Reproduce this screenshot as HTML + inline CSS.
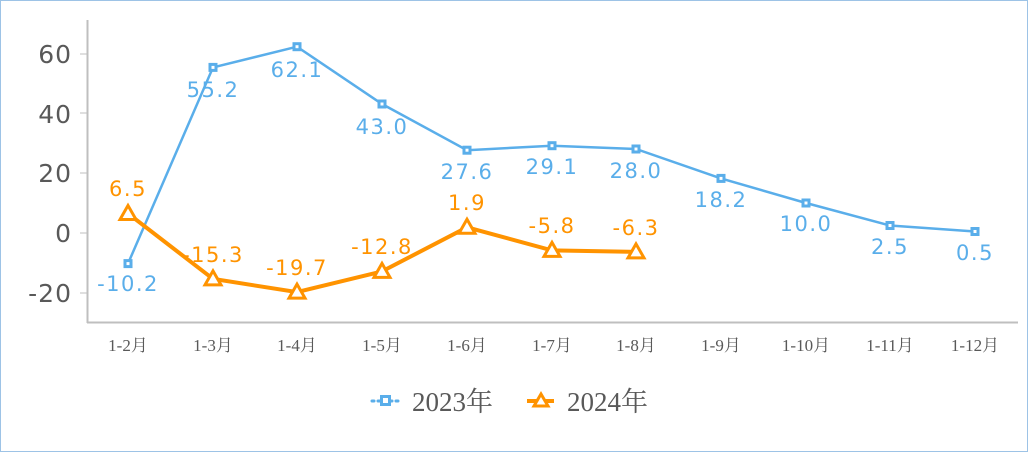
<!DOCTYPE html>
<html><head><meta charset="utf-8"><style>
html,body{margin:0;padding:0;background:#fff}
svg{display:block}
</style></head><body>
<svg width="1028" height="452" viewBox="0 0 1028 452" xmlns="http://www.w3.org/2000/svg">
<rect x="0.5" y="0.5" width="1027" height="451" fill="#fff" stroke="#9dc3e6" stroke-width="1"/>
<line x1="87.5" y1="20" x2="87.5" y2="323" stroke="#bfbfbf" stroke-width="2"/>
<line x1="87" y1="322.5" x2="1018" y2="322.5" stroke="#bfbfbf" stroke-width="2"/>
<g stroke="#bfbfbf" stroke-width="1">
<line x1="80" y1="54" x2="88" y2="54"/><line x1="80" y1="113" x2="88" y2="113"/>
<line x1="80" y1="173" x2="88" y2="173"/><line x1="80" y1="233" x2="88" y2="233"/>
<line x1="80" y1="293" x2="88" y2="293"/>
</g>
<g font-family="DejaVu Sans, Liberation Sans, sans-serif" font-size="25" fill="#595959" text-anchor="end" letter-spacing="1">
<text x="72" y="63">60</text><text x="72" y="123">40</text><text x="72" y="182">20</text>
<text x="72" y="242">0</text><text x="72" y="302">-20</text>
</g>
<g font-family="Liberation Serif, Noto Serif CJK SC, serif" font-size="17" fill="#595959" text-anchor="middle">
<text x="128" y="351">1-2月</text><text x="213" y="351">1-3月</text><text x="297" y="351">1-4月</text>
<text x="382" y="351">1-5月</text><text x="467" y="351">1-6月</text><text x="552" y="351">1-7月</text>
<text x="636" y="351">1-8月</text><text x="721" y="351">1-9月</text><text x="806" y="351">1-10月</text>
<text x="890" y="351">1-11月</text><text x="975" y="351">1-12月</text>
</g>
<polyline fill="none" stroke="#5aaeea" stroke-width="2.5" points="128,263.6 213,67.4 297,46.7 382,104 467,150.2 552,145.7 636,149 721,178.4 806,203 890,225.5 975,231.5"/>
<g fill="#5aaeea">
<rect x="123.5" y="259.1" width="9" height="9"/><rect x="208.5" y="62.9" width="9" height="9"/>
<rect x="292.5" y="42.2" width="9" height="9"/><rect x="377.5" y="99.5" width="9" height="9"/>
<rect x="462.5" y="145.7" width="9" height="9"/><rect x="547.5" y="141.2" width="9" height="9"/>
<rect x="631.5" y="144.5" width="9" height="9"/><rect x="716.5" y="173.9" width="9" height="9"/>
<rect x="801.5" y="198.5" width="9" height="9"/><rect x="885.5" y="221" width="9" height="9"/>
<rect x="970.5" y="227" width="9" height="9"/>
</g>
<g fill="#fff">
<rect x="126.5" y="262.1" width="3" height="3"/><rect x="211.5" y="65.9" width="3" height="3"/>
<rect x="295.5" y="45.2" width="3" height="3"/><rect x="380.5" y="102.5" width="3" height="3"/>
<rect x="465.5" y="148.7" width="3" height="3"/><rect x="550.5" y="144.2" width="3" height="3"/>
<rect x="634.5" y="147.5" width="3" height="3"/><rect x="719.5" y="176.9" width="3" height="3"/>
<rect x="804.5" y="201.5" width="3" height="3"/><rect x="888.5" y="224" width="3" height="3"/>
<rect x="973.5" y="230" width="3" height="3"/>
</g>
<g font-family="DejaVu Sans, Liberation Sans, sans-serif" font-size="21" fill="#5aaeea" text-anchor="middle" letter-spacing="1.5">
<text x="128" y="291">-10.2</text><text x="213" y="97">55.2</text><text x="297" y="77">62.1</text>
<text x="382" y="134">43.0</text><text x="467" y="179">27.6</text><text x="552" y="174">29.1</text>
<text x="636" y="178">28.0</text><text x="721" y="207">18.2</text><text x="806" y="231">10.0</text>
<text x="890" y="254">2.5</text><text x="975" y="260">0.5</text>
</g>
<polyline fill="none" stroke="#ff9300" stroke-width="4" points="128,213.5 213,278.9 297,292.1 382,271.4 467,227.3 552,250.4 636,251.9"/>
<g fill="#fff" stroke="#ff9300" stroke-width="3">
<polygon points="128,205.5 120,219.5 136,219.5"/><polygon points="213,270.9 205,284.9 221,284.9"/>
<polygon points="297,284.1 289,298.1 305,298.1"/><polygon points="382,263.4 374,277.4 390,277.4"/>
<polygon points="467,219.3 459,233.3 475,233.3"/><polygon points="552,242.4 544,256.4 560,256.4"/>
<polygon points="636,243.9 628,257.9 644,257.9"/>
</g>
<g font-family="DejaVu Sans, Liberation Sans, sans-serif" font-size="21" fill="#ff9300" text-anchor="middle" letter-spacing="1.5">
<text x="128" y="196">6.5</text><text x="213" y="262">-15.3</text><text x="297" y="275">-19.7</text>
<text x="382" y="254">-12.8</text><text x="467" y="210">1.9</text><text x="552" y="233">-5.8</text>
<text x="636" y="235">-6.3</text>
</g>
<line x1="372" y1="401" x2="400" y2="401" stroke="#5aaeea" stroke-width="3" stroke-dasharray="2,4" stroke-linecap="round"/>
<rect x="380" y="395" width="11" height="11" fill="#5aaeea"/>
<rect x="383" y="398" width="5" height="5" fill="#fff"/>
<text x="412" y="411" font-family="Liberation Serif, Noto Serif CJK SC, serif" font-size="27" fill="#595959">2023年</text>
<line x1="527" y1="401" x2="554" y2="401" stroke="#ff9300" stroke-width="4"/>
<polygon points="541,394 534,406 548,406" fill="#fff" stroke="#ff9300" stroke-width="3"/>
<text x="567" y="411" font-family="Liberation Serif, Noto Serif CJK SC, serif" font-size="27" fill="#595959">2024年</text>
</svg>
</body></html>
